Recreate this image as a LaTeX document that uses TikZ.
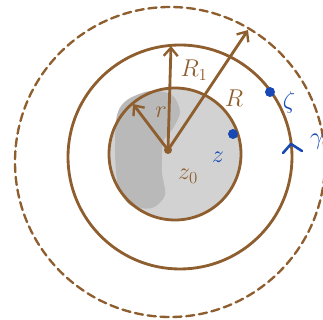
\documentclass[tikz,border=0pt]{standalone}
\usepackage{amsmath}
\usepackage{amssymb}
\usetikzlibrary{arrows.meta}
\definecolor{pen}{RGB}{142,94,46}
\definecolor{ink}{RGB}{24,72,180}
\begin{document}
\begin{tikzpicture}[x=0.03cm, y=-0.03cm,
        brush/.style={pen, line width=2.4pt, line cap=round},
        tip/.style={-{Straight Barb[length=7pt,width=12pt,line width=2pt]}},
        lbl/.style={pen, font=\huge},
        blue lbl/.style={ink, font=\huge}]
    \useasboundingbox (0,0) rectangle (323,320);
    % Shaded disk and the darker blob.
        \fill[gray!35] (175,154) circle (66);
        \fill[gray!55] plot[smooth cycle] coordinates {(127,100) (150,91) (172,95) (180,112) (172,130) (163,142) (162,172) (165,195) (152,208) (130,205) (118,185) (115,150) (117,115)};
    % The three circles.
        \draw[brush] (175,154) circle (66);
        \draw[brush] (180,157) circle (112);
        \draw[brush, dashed, dash pattern=on 7pt off 4pt, line width=2pt] (170,162) circle (155);
    % Points used by the radii.
        \coordinate (z0) at (168,150);
        \coordinate (topR1) at (171,46);
        \coordinate (topR) at (248,30);
        \coordinate (topr) at (133,104);
        \fill[pen] (z0) circle (4);
        \draw[brush, tip] (z0) -- (topR1);
        \draw[brush, tip] (z0) -- (topR);
        \draw[brush, tip] (z0) -- (topr);
    % Below nodes are the labels.
        \node[lbl] (labR1) at (194,70) {$R_1$};
        \node[lbl] (labR) at (234,98) {$R$};
        \node[lbl] (labr) at (161,112) {$r$};
        \node[lbl] (labz0) at (188,176) {$z_0$};
    % Blue points and labels.
        \fill[ink] (233,134) circle (5);
        \fill[ink] (270,92) circle (5);
        \node[blue lbl] (labz) at (218,157) {$z$};
        \node[blue lbl] (labzeta) at (289,102) {$\zeta$};
        \node[blue lbl] (labgamma) at (317,142) {$\gamma$};
    % This draws the little orientation mark.
        \draw[ink, line width=2.2pt, line cap=round, line join=round] (283,153) -- (291,144) -- (302,151);
\end{tikzpicture}
\end{document}
